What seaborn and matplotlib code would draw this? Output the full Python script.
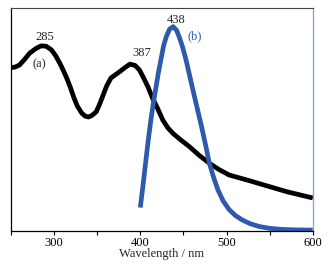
import matplotlib
matplotlib.use("Agg")
import matplotlib.pyplot as plt
import seaborn as sns
import pandas as pd

# curve (a): absorption
wl_a = [250, 255, 260, 266, 272, 279, 285, 291, 297, 302, 307, 311, 315, 319, 323,
        327, 332, 336, 340, 344, 349, 353, 357, 361, 366, 371, 376, 382, 388, 394,
        399, 404, 409, 414, 420, 426, 432, 438, 447, 457, 468, 480, 491, 503, 515,
        526, 540, 555, 570, 585, 600]
abs_a = [0.732, 0.735, 0.744, 0.77, 0.798, 0.818, 0.830, 0.828, 0.812, 0.785, 0.750,
         0.718, 0.683, 0.643, 0.598, 0.560, 0.529, 0.515, 0.511, 0.518, 0.535, 0.570,
         0.610, 0.650, 0.686, 0.700, 0.714, 0.732, 0.748, 0.742, 0.722, 0.685, 0.645,
         0.597, 0.550, 0.498, 0.462, 0.437, 0.408, 0.378, 0.340, 0.304, 0.276, 0.251,
         0.238, 0.226, 0.210, 0.193, 0.176, 0.162, 0.148]

# curve (b): emission
wl_b = [400, 403, 406, 409, 412, 415, 418, 421, 424, 427, 430, 434, 438, 442, 445,
        449, 453, 457, 461, 466, 471, 476, 480, 485, 490, 496, 503, 510, 518, 527,
        538, 550, 565, 580, 600]
em_b = [0.105, 0.20, 0.30, 0.40, 0.49, 0.57, 0.64, 0.71, 0.77, 0.83, 0.87, 0.905,
        0.916, 0.900, 0.871, 0.825, 0.767, 0.70, 0.632, 0.55, 0.468, 0.38, 0.304,
        0.24, 0.184, 0.135, 0.096, 0.070, 0.050, 0.033, 0.020, 0.012, 0.007, 0.005,
        0.004]

df_a = pd.DataFrame({"wl": wl_a, "v": abs_a})
df_b = pd.DataFrame({"wl": wl_b, "v": em_b})

sns.set_style("white")
plt.rcParams["font.family"] = ["Liberation Serif", "DejaVu Serif"]

fig = plt.figure(figsize=(3.3, 2.64), dpi=100)
ax = fig.add_axes([0.033, 0.125, 0.915, 0.845])

blue = "#2f5aab"
sns.lineplot(data=df_a, x="wl", y="v", ax=ax, color="black", linewidth=3.4,
             solid_capstyle="butt", solid_joinstyle="round")
sns.lineplot(data=df_b, x="wl", y="v", ax=ax, color=blue, linewidth=3.4,
             solid_capstyle="butt", solid_joinstyle="round")

ax.set_xlim(250, 600)
ax.set_ylim(0, 1)
ax.set_yticks([])
ax.set_xticks([300, 400, 500, 600])
ax.set_xticks([250, 350, 450, 550], minor=True)
ax.tick_params(axis="x", which="both", direction="out", length=3, width=0.8,
               colors="black", labelsize=9, pad=1.5, bottom=True)
ax.set_xlabel("Wavelength / nm", fontsize=9, labelpad=-1)
ax.set_ylabel("")

for s in ["left", "bottom"]:
    ax.spines[s].set_color("black")
    ax.spines[s].set_linewidth(0.9)
ax.spines["top"].set_color("#444444")
ax.spines["top"].set_linewidth(0.8)
ax.spines["right"].set_color("#8fa6d8")
ax.spines["right"].set_linewidth(1.0)

ax.text(289, 0.87, "285", fontsize=9, ha="center", va="center")
ax.text(283, 0.749, "(a)", fontsize=9, ha="center", va="center")
ax.text(402, 0.798, "387", fontsize=9, ha="center", va="center")
ax.text(441, 0.948, "438", fontsize=9, ha="center", va="center")
ax.text(463, 0.874, "(b)", fontsize=9, ha="center", va="center", color=blue)

fig.savefig("out.png", dpi=100)
